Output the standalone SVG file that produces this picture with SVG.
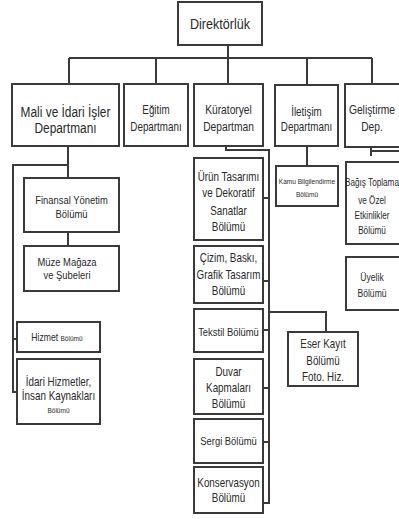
<svg xmlns="http://www.w3.org/2000/svg" width="399" height="519" viewBox="0 0 399 519">
<style>
.b{fill:#fff;stroke:#3a3a3a;stroke-width:2}
.c{fill:none;stroke:#3a3a3a;stroke-width:2}
text{font-family:"Liberation Sans",Arial,sans-serif;fill:#2a2a2a;text-anchor:middle}
</style>
<rect width="399" height="519" fill="#fff"/>
<g id="connectors" class="c">
<path d="M228 45V58M69 58H372M69 58V84M156 58V84M228 58V84M307 58V85M372 58V84"/>
<path d="M68 146V178M68 232V246M68 165H13V392H17M13 339H17"/>
<path d="M226 146V150H269V503H263M263 198H269M263 281H269M263 330H269M263 388H269M263 442H269"/>
<path d="M269 312H326V332"/>
<path d="M307 146V166"/>
<path d="M371 147V156M371 151H399"/>
</g>
<g id="direktorluk"><rect class="b" x="178" y="2" width="84" height="43"/><g transform="matrix(0.84,0,0,1,220,0)"><text x="0" y="29" font-size="15">Direktörlük</text></g></g>
<g id="mali"><rect class="b" x="12" y="84" width="107" height="62"/><g transform="matrix(0.82,0,0,1,65.5,0)"><text x="0" y="117" font-size="14.5">Mali ve İdari İşler</text><text x="0" y="133" font-size="14.5">Departmanı</text></g></g>
<g id="egitim"><rect class="b" x="124" y="84" width="64" height="62"/><g transform="matrix(0.82,0,0,1,156,0)"><text x="0" y="114" font-size="12">Eğitim</text><text x="0" y="131" font-size="12">Departmanı</text></g></g>
<g id="kuratoryel"><rect class="b" x="194" y="84" width="69" height="62"/><g transform="matrix(0.82,0,0,1,228.5,0)"><text x="0" y="114" font-size="12.5">Küratoryel</text><text x="0" y="131" font-size="12.5">Departman</text></g></g>
<g id="iletisim"><rect class="b" x="275" y="85" width="63" height="61"/><g transform="matrix(0.82,0,0,1,306.5,0)"><text x="0" y="116" font-size="12">İletişim</text><text x="0" y="131" font-size="12">Departmanı</text></g></g>
<g id="gelistirme"><rect class="b" x="345" y="84" width="60" height="63"/><g transform="matrix(0.82,0,0,1,372,0)"><text x="0" y="114" font-size="12.5">Geliştirme</text><text x="0" y="131" font-size="12.5">Dep.</text></g></g>
<g id="finansal"><rect class="b" x="24" y="178" width="95" height="54"/><g transform="matrix(0.82,0,0,1,71.5,0)"><text x="0" y="204" font-size="11.5">Finansal Yönetim</text><text x="0" y="218" font-size="11.5">Bölümü</text></g></g>
<g id="muze"><rect class="b" x="24" y="246" width="95" height="45"/><g transform="matrix(0.82,0,0,1,67,0)"><text x="0" y="266" font-size="11.5">Müze Mağaza</text><text x="0" y="279" font-size="11.5">ve Şubeleri</text></g></g>
<g id="hizmet"><rect class="b" x="17" y="322" width="83" height="30"/><g transform="matrix(0.82,0,0,1,57,0)"><text x="0" y="341"><tspan font-size="10.5">Hizmet </tspan><tspan font-size="8">Bölümü</tspan></text></g></g>
<g id="idari"><rect class="b" x="17" y="359" width="83" height="65"/><g transform="matrix(0.82,0,0,1,58.5,0)"><text x="0" y="386" font-size="12">İdari Hizmetler,</text><text x="0" y="400" font-size="12">İnsan Kaynakları</text><text x="0" y="413" font-size="8">Bölümü</text></g></g>
<g id="urun"><rect class="b" x="194" y="158" width="69" height="82"/><g transform="matrix(0.82,0,0,1,228.5,0)"><text x="0" y="181" font-size="12">Ürün Tasarımı</text><text x="0" y="197" font-size="12">ve Dekoratif</text><text x="0" y="215" font-size="12">Sanatlar</text><text x="0" y="231" font-size="12">Bölümü</text></g></g>
<g id="cizim"><rect class="b" x="194" y="246" width="69" height="57"/><g transform="matrix(0.82,0,0,1,228.5,0)"><text x="0" y="262" font-size="12">Çizim, Baskı,</text><text x="0" y="279" font-size="12">Grafik Tasarım</text><text x="0" y="295" font-size="12">Bölümü</text></g></g>
<g id="tekstil"><rect class="b" x="194" y="309" width="69" height="43"/><g transform="matrix(0.82,0,0,1,228.5,0)"><text x="0" y="336" font-size="11.5">Tekstil Bölümü</text></g></g>
<g id="duvar"><rect class="b" x="194" y="359" width="69" height="55"/><g transform="matrix(0.82,0,0,1,228.5,0)"><text x="0" y="376" font-size="12">Duvar</text><text x="0" y="392" font-size="12">Kapmaları</text><text x="0" y="408" font-size="12">Bölümü</text></g></g>
<g id="sergi"><rect class="b" x="194" y="419" width="69" height="44"/><g transform="matrix(0.82,0,0,1,228.5,0)"><text x="0" y="445" font-size="11.5">Sergi Bölümü</text></g></g>
<g id="konservasyon"><rect class="b" x="194" y="467" width="69" height="46"/><g transform="matrix(0.82,0,0,1,228.5,0)"><text x="0" y="487" font-size="12">Konservasyon</text><text x="0" y="502" font-size="12">Bölümü</text></g></g>
<g id="eser"><rect class="b" x="288" y="332" width="70" height="54"/><g transform="matrix(0.82,0,0,1,323,0)"><text x="0" y="348" font-size="12">Eser Kayıt</text><text x="0" y="365" font-size="12">Bölümü</text><text x="0" y="381" font-size="12">Foto. Hiz.</text></g></g>
<g id="kamu"><rect class="b" x="276" y="166" width="62" height="40"/><g transform="matrix(0.82,0,0,1,307,0)"><text x="0" y="184" font-size="8">Kamu Bilgilendirme</text><text x="0" y="197" font-size="8">Bölümü</text></g></g>
<g id="bagis"><rect class="b" x="346" y="162" width="60" height="82"/><g transform="matrix(0.82,0,0,1,372,0)"><text x="0" y="186" font-size="10">Bağış Toplama</text><text x="0" y="204" font-size="10">ve Özel</text><text x="0" y="219" font-size="10">Etkinlikler</text><text x="0" y="234" font-size="10">Bölümü</text></g></g>
<g id="uyelik"><rect class="b" x="346" y="257" width="60" height="53"/><g transform="matrix(0.82,0,0,1,372,0)"><text x="0" y="281" font-size="10.5">Üyelik</text><text x="0" y="297" font-size="10.5">Bölümü</text></g></g>
</svg>
